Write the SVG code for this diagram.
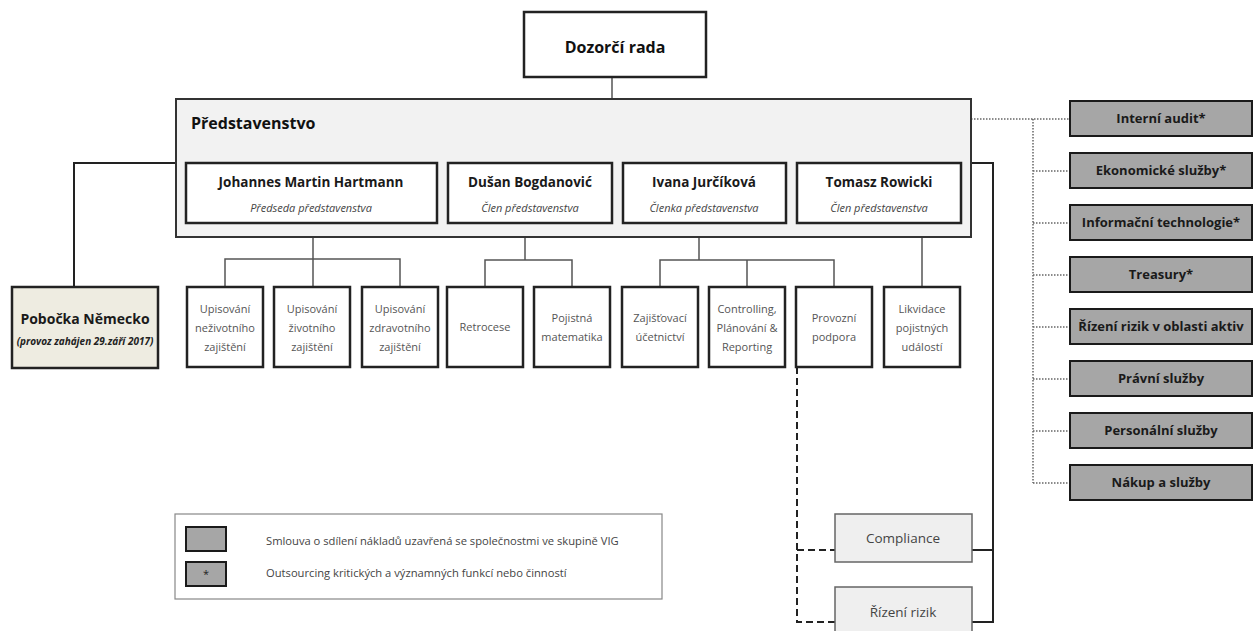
<svg xmlns="http://www.w3.org/2000/svg" width="1254" height="631" viewBox="0 0 1254 631">
<style>
text{font-family:"Open Sans","Noto Sans","DejaVu Sans",sans-serif;text-anchor:middle}
.wb{fill:#fff;stroke:#222;stroke-width:2.5}
.nm{font-weight:700;font-size:13.5px;fill:#1a1a1a}
.sub{font-style:italic;font-size:11px;fill:#444}
.ch{font-size:11px;fill:#555}
.gb{fill:#a6a6a6;stroke:#1a1a1a;stroke-width:2}
.gt{font-weight:700;font-size:13px;fill:#1a1a1a}
.ln{fill:none;stroke:#555;stroke-width:1.5}
.sl{fill:none;stroke:#222;stroke-width:2}
.dot{fill:none;stroke:#666;stroke-width:1.5;stroke-dasharray:1.5 1.5}
.dsh{fill:none;stroke:#222;stroke-width:2;stroke-dasharray:7 4}
.lb{fill:#efefef;stroke:#666;stroke-width:1.5}
.lt{font-size:11.2px;fill:#444;text-anchor:start}
</style>
<rect width="1254" height="631" fill="#fff"/>
<g id="connectors">
<path class="ln" d="M612 77V142M313 163V142H874V163M525 142V163M699 142V163"/>
<path class="sl" d="M176 163H74V287"/>
<path class="ln" d="M313 223V287M225 287V259H400V287"/>
<path class="ln" d="M525 223V260M485 287V260H572V287"/>
<path class="ln" d="M699 223V260M660 287V260H834V287M747 260V287"/>
<path class="ln" d="M922 223V287"/>
<path class="sl" d="M971 163H993V622H972M993 550H972"/>
<path class="dsh" d="M797 367V622H835M797 550H835"/>
<path class="dot" d="M971 119H1070M1033 119V483M1033 171H1070M1033 223H1070M1033 275H1070M1033 327H1070M1033 379H1070M1033 431H1070M1033 483H1070"/>
</g>
<g id="dozorci-rada">
<rect class="wb" x="524" y="12" width="182" height="65"/>
<text x="615" y="53" font-weight="700" font-size="16" fill="#111">Dozorčí rada</text>
</g>
<g id="predstavenstvo">
<rect x="176" y="99" width="795" height="138" fill="#f2f2f2" stroke="#333" stroke-width="2"/>
<text x="191" y="129" font-weight="700" font-size="16" fill="#111" style="text-anchor:start">Představenstvo</text>
</g>
<g id="hartmann">
<rect class="wb" x="186" y="163" width="251" height="60"/>
<text class="nm" x="311" y="187">Johannes Martin Hartmann</text>
<text class="sub" x="311" y="212">Předseda představenstva</text>
</g>
<g id="bogdanovic">
<rect class="wb" x="448" y="163" width="164" height="60"/>
<text class="nm" x="530" y="187">Dušan Bogdanović</text>
<text class="sub" x="530" y="212">Člen představenstva</text>
</g>
<g id="jurcikova">
<rect class="wb" x="623" y="163" width="163" height="60"/>
<text class="nm" x="704" y="187">Ivana Jurčíková</text>
<text class="sub" x="704" y="212">Členka představenstva</text>
</g>
<g id="rowicki">
<rect class="wb" x="797" y="163" width="164" height="60"/>
<text class="nm" x="879" y="187">Tomasz Rowicki</text>
<text class="sub" x="879" y="212">Člen představenstva</text>
</g>
<g id="pobocka">
<rect x="12" y="287" width="146" height="81" fill="#eeece1" stroke="#222" stroke-width="2.5"/>
<text x="85" y="324" font-weight="700" font-size="14" fill="#1a1a1a">Pobočka Německo</text>
<text x="85" y="345" font-weight="700" font-style="italic" font-size="10" fill="#222">(provoz zahájen 29.září 2017)</text>
</g>
<g id="upis-nezivot"><rect class="wb" x="187" y="287" width="76" height="80"/>
<text class="ch" x="225" y="313">Upisování</text><text class="ch" x="225" y="332">neživotního</text><text class="ch" x="225" y="351">zajištění</text></g>
<g id="upis-zivot"><rect class="wb" x="274" y="287" width="76" height="80"/>
<text class="ch" x="312" y="313">Upisování</text><text class="ch" x="312" y="332">životního</text><text class="ch" x="312" y="351">zajištění</text></g>
<g id="upis-zdrav"><rect class="wb" x="362" y="287" width="76" height="80"/>
<text class="ch" x="400" y="313">Upisování</text><text class="ch" x="400" y="332">zdravotního</text><text class="ch" x="400" y="351">zajištění</text></g>
<g id="retrocese"><rect class="wb" x="447" y="287" width="76" height="80"/>
<text class="ch" x="485" y="331">Retrocese</text></g>
<g id="pojistna-matematika"><rect class="wb" x="534" y="287" width="76" height="80"/>
<text class="ch" x="572" y="322">Pojistná</text><text class="ch" x="572" y="341">matematika</text></g>
<g id="zajistovaci-ucetnictvi"><rect class="wb" x="622" y="287" width="76" height="80"/>
<text class="ch" x="660" y="322">Zajišťovací</text><text class="ch" x="660" y="341">účetnictví</text></g>
<g id="controlling"><rect class="wb" x="709" y="287" width="76" height="80"/>
<text class="ch" x="747" y="313">Controlling,</text><text class="ch" x="747" y="332">Plánování &amp;</text><text class="ch" x="747" y="351">Reporting</text></g>
<g id="provozni-podpora"><rect class="wb" x="796" y="287" width="76" height="80"/>
<text class="ch" x="834" y="322">Provozní</text><text class="ch" x="834" y="341">podpora</text></g>
<g id="likvidace"><rect class="wb" x="884" y="287" width="76" height="80"/>
<text class="ch" x="922" y="313">Likvidace</text><text class="ch" x="922" y="332">pojistných</text><text class="ch" x="922" y="351">událostí</text></g>
<g id="compliance"><rect class="lb" x="835" y="514" width="137" height="48"/>
<text x="903" y="543" font-size="13.5" fill="#444">Compliance</text></g>
<g id="rizeni-rizik"><rect class="lb" x="835" y="587" width="137" height="60"/>
<text x="903" y="617" font-size="13.5" fill="#444">Řízení rizik</text></g>
<g id="interni-audit"><rect class="gb" x="1070" y="101" width="182" height="35"/><text class="gt" x="1161" y="123">Interní audit*</text></g>
<g id="ekonomicke-sluzby"><rect class="gb" x="1070" y="153" width="182" height="35"/><text class="gt" x="1161" y="175">Ekonomické služby*</text></g>
<g id="informacni-technologie"><rect class="gb" x="1070" y="205" width="182" height="35"/><text class="gt" x="1161" y="227">Informační technologie*</text></g>
<g id="treasury"><rect class="gb" x="1070" y="257" width="182" height="35"/><text class="gt" x="1161" y="279">Treasury*</text></g>
<g id="rizeni-rizik-aktiv"><rect class="gb" x="1070" y="309" width="182" height="35"/><text class="gt" x="1161" y="331">Řízení rizik v oblasti aktiv</text></g>
<g id="pravni-sluzby"><rect class="gb" x="1070" y="361" width="182" height="35"/><text class="gt" x="1161" y="383">Právní služby</text></g>
<g id="personalni-sluzby"><rect class="gb" x="1070" y="413" width="182" height="35"/><text class="gt" x="1161" y="435">Personální služby</text></g>
<g id="nakup-sluzby"><rect class="gb" x="1070" y="465" width="182" height="35"/><text class="gt" x="1161" y="487">Nákup a služby</text></g>
<g id="legend">
<rect x="175" y="514" width="487" height="85" fill="#fff" stroke="#888" stroke-width="1.2"/>
<rect class="gb" x="186" y="527" width="40" height="24"/>
<rect class="gb" x="186" y="562" width="40" height="24"/>
<text x="206" y="578" font-size="11" fill="#222">*</text>
<text class="lt" x="266" y="545">Smlouva o sdílení nákladů uzavřená se společnostmi ve skupině VIG</text>
<text class="lt" x="266" y="577">Outsourcing kritických a významných funkcí nebo činností</text>
</g>
</svg>
